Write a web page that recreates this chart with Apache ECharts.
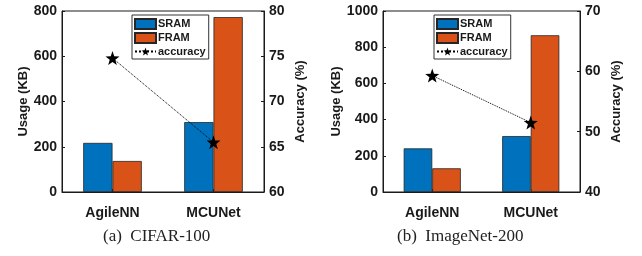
<!DOCTYPE html>
<html>
	<head>
		<meta charset="utf-8">
		<title>Memory usage and accuracy</title>
		<script src="https://cdn.jsdelivr.net/npm/echarts@6/dist/echarts.min.js"></script>
	</head>
	<body style="margin:0;background:#fff;">
		<div id="main" style="width: 642px; height: 256px;"></div>
		<script>
			var categories = ['AgileNN', 'MCUNet'];
			// (a) CIFAR-100
			var cifarSram = [217, 309];
			var cifarFram = [137, 773];
			var cifarAcc = [74.8, 65.5];
			// (b) ImageNet-200
			var imagenetSram = [241, 309];
			var imagenetFram = [131, 866];
			var imagenetAcc = [59.3, 51.5];

			var blue = '#0072BD';
			var orange = '#D95319';
			var ink = '#1a1a1a';
			var star = 'path://M0,-10 L2.35,-3.24 L9.51,-3.09 L3.8,1.24 L5.88,8.09 L0,4 L-5.88,8.09 L-3.8,1.24 L-9.51,-3.09 L-2.35,-3.24 Z';

			var labelFont = {color: ink, fontSize: 14, fontWeight: 'bold', fontFamily: 'Liberation Sans'};
			var nameFont = {color: ink, fontSize: 13, fontWeight: 'bold', fontFamily: 'Liberation Sans'};

			function valueAxis(grid, min, max, step, name, pos) {
				return {
					type: 'value', gridIndex: grid, position: pos,
					min: min, max: max, interval: step,
					name: name, nameLocation: 'middle', nameRotate: 90,
					nameGap: pos == 'left' ? 32 : 30,
					nameTextStyle: nameFont,
					axisLine: {show: true, lineStyle: {color: ink, width: 1}},
					axisTick: {show: true, inside: true, length: 3, lineStyle: {color: ink}},
					axisLabel: Object.assign({margin: 5, formatter: function (v) { return String(v); }}, labelFont),
					splitLine: {show: false}
				};
			}
			function catAxis(grid) {
				return {
					type: 'category', gridIndex: grid, data: categories,
					axisLine: {lineStyle: {color: ink}},
					axisTick: {show: true, inside: true, length: 3, alignWithLabel: true, lineStyle: {color: ink}},
					axisLabel: Object.assign({margin: 14}, labelFont)
				};
			}
			function barSeries(name, grid, data, color) {
				return {
					name: name, type: 'bar', xAxisIndex: grid, yAxisIndex: grid * 2,
					data: data, barWidth: '29%', barGap: '0%',
					itemStyle: {color: color, borderColor: '#262626', borderWidth: 0.8},
					animation: false
				};
			}
			function accSeries(grid, data) {
				return {
					name: 'accuracy', type: 'line', xAxisIndex: grid, yAxisIndex: grid * 2 + 1,
					data: data, symbol: star, symbolSize: 14,
					itemStyle: {color: '#000'},
					lineStyle: {color: '#000', width: 1, type: 'dotted'},
					z: 5, animation: false
				};
			}
			function legendBox(x) {
				return {
					orient: 'vertical', left: x, top: 15,
					padding: [3, 3, 2, 2], itemGap: 2,
					itemWidth: 21, itemHeight: 10,
					borderColor: '#333', borderWidth: 1, backgroundColor: '#fff',
					textStyle: {color: ink, fontSize: 11, fontWeight: 'bold', fontFamily: 'Liberation Sans', padding: [0, 0, 0, -3]},
					data: [
						{name: 'SRAM', icon: 'rect'},
						{name: 'FRAM', icon: 'rect'},
						{name: 'accuracy'}
					]
				};
			}

			var mychart = echarts.init(document.getElementById('main'));
			var option = {
				backgroundColor: '#fff',
				grid: [
					{left: 62, right: 378, top: 11, bottom: 64, show: true, borderColor: ink, borderWidth: 1},
					{left: 383, right: 62, top: 11, bottom: 64, show: true, borderColor: ink, borderWidth: 1}
				],
				legend: [legendBox(132), legendBox(434)],
				xAxis: [catAxis(0), catAxis(1)],
				yAxis: [
					valueAxis(0, 0, 800, 200, 'Usage (KB)', 'left'),
					valueAxis(0, 60, 80, 5, 'Accuracy (%)', 'right'),
					valueAxis(1, 0, 1000, 200, 'Usage (KB)', 'left'),
					valueAxis(1, 40, 70, 10, 'Accuracy (%)', 'right')
				],
				series: [
					barSeries('SRAM', 0, cifarSram, blue),
					barSeries('FRAM', 0, cifarFram, orange),
					accSeries(0, cifarAcc),
					barSeries('SRAM', 1, imagenetSram, blue),
					barSeries('FRAM', 1, imagenetFram, orange),
					accSeries(1, imagenetAcc)
				],
				graphic: [
					{type: 'text', left: 103, top: 228, style: {text: '(a)  CIFAR-100', fill: '#222', font: '17px "Liberation Serif"'}},
					{type: 'text', left: 397, top: 228, style: {text: '(b)  ImageNet-200', fill: '#222', font: '17px "Liberation Serif"'}}
				]
			};
			mychart.setOption(option);
		</script>
	</body>
</html>
